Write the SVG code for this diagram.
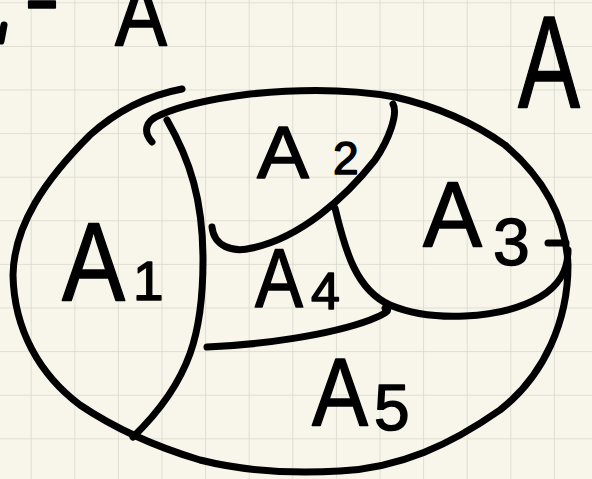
<svg xmlns="http://www.w3.org/2000/svg" width="592" height="479" viewBox="0 0 592 479">
<style>
.ink{fill:none;stroke:#000;stroke-width:7;stroke-linecap:round;stroke-linejoin:round}
.lbl{font-family:"Liberation Sans","DejaVu Sans",sans-serif;fill:#000;stroke:#000;stroke-width:1.5;stroke-linejoin:round}
</style>
<defs>
<pattern id="grid" x="30.7" y="2.3" width="43.6" height="43.6" patternUnits="userSpaceOnUse">
<path d="M0,0H43.6M0,0V43.6" fill="none" stroke="#d9d8cc" stroke-width="1.6"/>
</pattern>
</defs>
<rect width="592" height="479" fill="#f8f6eb"/>
<rect width="592" height="479" fill="url(#grid)"/>
<g id="connectors">
<path class="ink" d="M182,89 C150,95 120,108 90,135 C45,180 14,225 13,275 C14,330 40,375 80,405 C120,432 160,448 200,460 C240,470 290,474 340,471 C400,468 450,445 500,410 C545,375 568,320 568,265 C566,215 540,175 505,145 C470,120 430,105 395,97 C350,89 300,89 250,94 C210,99 180,106 160,115 C145,121 143,132 152,142"/>
<path class="ink" d="M167,120 C190,160 203,200 203,260 C203,330 192,380 133,437"/>
<path class="ink" d="M212,227 C214,246 232,253 252,248 C300,238 345,198 375,160 C390,138 398,113 393,104"/>
<path class="ink" d="M335,208 C345,250 356,290 390,305 C430,322 500,320 540,297 C560,285 568,270 568,250"/>
<path class="ink" d="M207,347 C260,345 330,335 370,320 C385,314 392,310 385,308"/>
<path class="ink" d="M548,243 L566,243"/>
<path class="ink" d="M4,25 L1,41"/>
</g>
<g id="A1"><text class="lbl" x="62" y="300" font-size="112" textLength="63" lengthAdjust="spacingAndGlyphs">A</text><text class="lbl" x="133" y="300" font-size="55">1</text></g>
<g id="A2"><text class="lbl" x="257" y="178" font-size="75" textLength="52" lengthAdjust="spacingAndGlyphs">A</text><text class="lbl" x="333" y="174" font-size="46">2</text></g>
<g id="A3"><text class="lbl" x="423" y="247" font-size="92" textLength="59" lengthAdjust="spacingAndGlyphs">A</text><text class="lbl" x="493" y="265" font-size="66">3</text></g>
<g id="A4"><text class="lbl" x="255" y="307" font-size="84" textLength="48" lengthAdjust="spacingAndGlyphs">A</text><text class="lbl" x="311" y="309" font-size="52">4</text></g>
<g id="A5"><text class="lbl" x="312" y="425" font-size="97" textLength="56" lengthAdjust="spacingAndGlyphs">A</text><text class="lbl" x="374" y="430" font-size="64">5</text></g>
<g id="A"><text class="lbl" x="518" y="108" font-size="132" textLength="62" lengthAdjust="spacingAndGlyphs">A</text></g>
<g id="top-left"><text class="lbl" x="24" y="29" font-size="90" textLength="36" lengthAdjust="spacingAndGlyphs">-</text><text class="lbl" x="115" y="45" font-size="90" textLength="52" lengthAdjust="spacingAndGlyphs">A</text></g>
</svg>
